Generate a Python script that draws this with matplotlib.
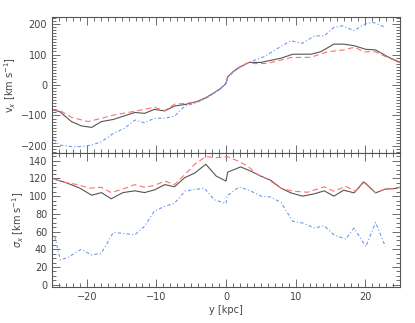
import matplotlib
matplotlib.use("Agg")
import matplotlib.pyplot as plt
from matplotlib.ticker import MultipleLocator, AutoMinorLocator

# ---- data: top panel (v_x) ----
vx_black_x = [-24.9, -23.9, -22.2, -20.8, -19.3, -17.9, -16.2, -13.1, -11.7, -10.3, -8.8, -7.4, -5.7, -4.3, -3.1, -2.1,
              -0.8, 0.0, 0.24, 1.2, 2.1, 3.3, 5.0, 7.9, 9.6, 12.2, 13.6, 15.5, 16.9, 18.4, 20.1, 21.5, 23.2, 25.0]
vx_black_y = [-82, -87, -120, -134, -139, -120, -113, -90, -93, -80, -85, -69, -63, -55, -44, -31,
              -12, 5, 27, 47, 60, 74, 74, 88, 101, 101, 109, 134, 134, 129, 117, 115, 93, 74]

vx_red_x = [-25.0, -24.0, -22.2, -19.8, -17.9, -16.0, -14.1, -12.2, -10.3, -8.8, -7.4, -5.7, -4.3, -3.1, -2.1,
            -0.8, 0.0, 0.24, 1.2, 2.1, 3.3, 4.2, 6.0, 9.3, 12.2, 14.6, 16.9, 18.5, 19.8, 21.5, 23.2, 25.0]
vx_red_y = [-82, -82, -106, -120, -109, -98, -90, -82, -73, -84, -63, -60, -55, -44, -31,
            -12, 5, 27, 49, 62, 74, 70, 71, 90, 91, 109, 115, 124, 109, 109, 90, 74]

vx_blue_x = [-24.8, -23.9, -22.2, -20.8, -19.3, -17.9, -16.2, -14.6, -13.1, -11.7, -10.3, -8.8, -7.4, -5.9, -4.6,
             -3.1, -2.1, -0.8, 0.0, 0.24, 1.2, 2.1, 3.6, 5.5, 7.4, 9.3, 11.0, 12.7, 14.1, 15.5, 16.7, 18.4, 20.1,
             21.2, 22.9]
vx_blue_y = [-178, -197, -202, -202, -197, -186, -159, -142, -115, -124, -109, -109, -102, -69, -61,
             -47, -33, -12, 5, 25, 45, 60, 77, 93, 120, 145, 137, 161, 161, 189, 194, 178, 202,
             205, 189]

# ---- data: bottom panel (sigma_x) ----
sx_black_x = [-24.6, -22.9, -21.0, -19.3, -17.9, -16.5, -14.8, -13.1, -11.7, -10.3, -8.8, -7.4, -5.9, -4.5, -2.9,
              -1.4, 0.0, 0.24, 2.1, 3.6, 5.0, 6.4, 7.9, 9.3, 11.0, 12.7, 14.1, 15.5, 16.9, 18.4, 19.8, 21.5,
              22.9, 24.3, 25.0]
sx_black_y = [119, 115, 109, 101, 104, 97, 104, 106, 104, 107, 113, 110.6, 121, 126, 136,
              122.6, 117, 127, 133, 128, 122.6, 118, 109, 103.7, 100, 102.6, 106, 100, 106.7, 103.7, 116, 103.7,
              108, 108.6, 110]

sx_red_x = [-24.6, -22.9, -21.3, -19.6, -17.9, -16.5, -14.8, -13.1, -11.7, -10.3, -8.8, -7.4, -5.7, -4.5, -2.9,
            -1.4, 0.24, 1.7, 3.1, 4.5, 6.0, 7.9, 9.6, 11.7, 14.1, 15.5, 17.2, 18.6, 19.8, 21.5, 22.9, 24.3, 25.0]
sx_red_y = [119, 115, 113, 109, 110, 104, 108, 113, 110, 112, 117, 113, 126, 136, 144.6,
            143.5, 144.6, 139.6, 134, 124.5, 119, 109, 105.6, 104.4, 110.5, 105.6, 111, 105.6, 117, 103.7, 108,
            108.6, 110]

sx_blue_x = [-24.6, -23.8, -22.7, -20.8, -19.3, -17.9, -16.2, -14.8, -13.1, -11.7, -10.3, -8.8, -7.4, -5.9, -4.5,
             -3.1, -1.7, 0.0, 0.1, 1.9, 3.6, 5.0, 6.4, 7.9, 9.6, 11.0, 12.7, 14.1, 15.5, 17.2, 18.4, 20.1,
             21.5, 22.9]
sx_blue_y = [54.5, 28, 31, 40, 33.7, 35.6, 59, 58, 56.4, 66, 83, 88.5, 92, 105.6, 107.5,
             109, 96, 91.6, 100, 110.5, 105.6, 100, 99, 93, 71.5, 69.7, 64, 66.6, 56.4, 51.5, 64, 43,
             70.4, 43]

xlim = (-25, 25)
top_ylim = (-222, 224)
bot_ylim = (-2.5, 149)

c_black = "#555555"
c_red = "#ff7070"
c_blue = "#6f98f0"
c_text = "#444444"

plt.rcParams['font.family'] = ['DejaVu Sans']
fig = plt.figure(figsize=(4.15, 3.23), dpi=100)
L, R = 52 / 415, 400 / 415
ax1 = fig.add_axes([L, 1 - 152.7 / 323, R - L, (152.7 - 16.7) / 323])
ax2 = fig.add_axes([L, 1 - 287 / 323, R - L, (287 - 152.7) / 323])

lw = 0.8
ax1.plot(vx_black_x, vx_black_y, color=c_black, lw=lw, ls='-')
ax1.plot(vx_red_x, vx_red_y, color=c_red, lw=lw, ls=(0, (5, 3)))
ax1.plot(vx_blue_x, vx_blue_y, color=c_blue, lw=lw, ls=(0, (3, 2, 1, 2)))

ax2.plot(sx_black_x, sx_black_y, color=c_black, lw=lw, ls='-')
ax2.plot(sx_red_x, sx_red_y, color=c_red, lw=lw, ls=(0, (5, 3)))
ax2.plot(sx_blue_x, sx_blue_y, color=c_blue, lw=lw, ls=(0, (3, 2, 1, 2)))

for ax in (ax1, ax2):
    ax.set_xlim(*xlim)
    ax.xaxis.set_major_locator(MultipleLocator(10))
    ax.xaxis.set_minor_locator(AutoMinorLocator(10))
    ax.tick_params(which='both', direction='in', top=True, right=True,
                   colors=c_black, labelcolor=c_text, labelsize=7, width=0.6)
    ax.tick_params(which='major', length=6)
    ax.tick_params(which='minor', length=3)
    for s in ax.spines.values():
        s.set_color(c_black)
        s.set_linewidth(0.8)

ax1.set_ylim(*top_ylim)
ax1.yaxis.set_major_locator(MultipleLocator(100))
ax1.yaxis.set_minor_locator(AutoMinorLocator(10))
ax1.tick_params(labelbottom=False)
ax1.set_ylabel(r"v$_x$ [km s$^{-1}$]", fontsize=7, color=c_text, labelpad=2)

ax2.set_ylim(*bot_ylim)
ax2.yaxis.set_major_locator(MultipleLocator(20))
ax2.yaxis.set_minor_locator(AutoMinorLocator(4))
ax2.set_ylabel(r"$\sigma_x$ [km s$^{-1}$]", fontsize=7, color=c_text, labelpad=2)
ax2.set_xlabel("y [kpc]", fontsize=7, color=c_text, labelpad=2)

fig.savefig("out.png", dpi=100)
